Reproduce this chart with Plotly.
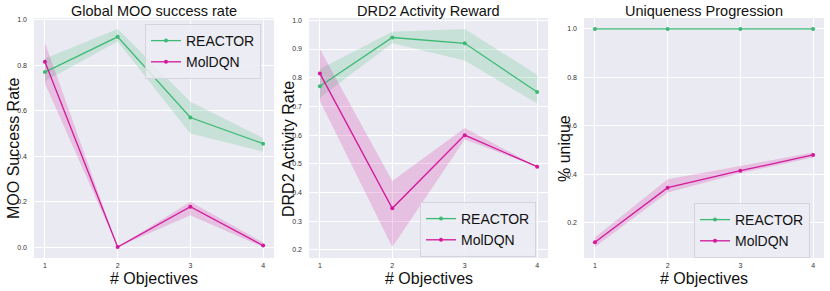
import plotly.graph_objects as go

objectives = [1, 2, 3, 4]

# Panel 1: Global MOO success rate
moo_reactor = [0.77, 0.925, 0.57, 0.455]
moo_reactor_lo = [0.73, 0.905, 0.50, 0.42]
moo_reactor_hi = [0.83, 0.96, 0.64, 0.48]
moo_moldqn = [0.815, 0.0, 0.178, 0.007]
moo_moldqn_lo = [0.72, 0.0, 0.14, 0.0]
moo_moldqn_hi = [0.90, 0.0, 0.20, 0.02]

# Panel 2: DRD2 activity
drd_reactor = [0.77, 0.94, 0.92, 0.75]
drd_reactor_lo = [0.73, 0.92, 0.86, 0.71]
drd_reactor_hi = [0.83, 0.96, 0.97, 0.81]
drd_moldqn = [0.815, 0.345, 0.60, 0.49]
drd_moldqn_lo = [0.72, 0.21, 0.585, 0.49]
drd_moldqn_hi = [0.90, 0.44, 0.625, 0.49]

# Panel 3: uniqueness
uniq_reactor = [1.0, 1.0, 1.0, 1.0]
uniq_reactor_lo = [1.0, 1.0, 1.0, 1.0]
uniq_reactor_hi = [1.0, 1.0, 1.0, 1.0]
uniq_moldqn = [0.12, 0.345, 0.415, 0.48]
uniq_moldqn_lo = [0.10, 0.325, 0.405, 0.47]
uniq_moldqn_hi = [0.14, 0.38, 0.435, 0.49]

titles = ["Global MOO success rate", "DRD2 Activity Reward", "Uniqueness Progression"]
ylabels = ["MOO Success Rate", "DRD2 Activity Rate", "% unique"]
xlabel = "# Objectives"
yticks = [[0.0, 0.2, 0.4, 0.6, 0.8, 1.0],
          [0.2, 0.3, 0.4, 0.5, 0.6, 0.7, 0.8, 0.9, 1.0],
          [0.2, 0.4, 0.6, 0.8, 1.0]]
yranges = [[-0.048, 1.008], [0.172, 1.008], [0.055, 1.045]]

GREEN = "#3cba74"
GREEN_BAND = "rgba(60,186,116,0.2)"
PINK = "#d3189b"
PINK_BAND = "rgba(211,24,155,0.2)"

panels = [
    (moo_reactor, moo_reactor_lo, moo_reactor_hi, moo_moldqn, moo_moldqn_lo, moo_moldqn_hi),
    (drd_reactor, drd_reactor_lo, drd_reactor_hi, drd_moldqn, drd_moldqn_lo, drd_moldqn_hi),
    (uniq_reactor, uniq_reactor_lo, uniq_reactor_hi, uniq_moldqn, uniq_moldqn_lo, uniq_moldqn_hi),
]

W, H = 830, 291
xdoms = [(34, 274), (309, 548), (584, 824)]
ylab_x = [13, 288, 564]
ytop, ybot = 18, 258
ydom = [1 - ybot / H, 1 - ytop / H]
legend_pos = [(145, 24), (420, 202), (694, 203)]
legend_names = ["legend", "legend2", "legend3"]

fig = go.Figure()
layout = {}
annotations = []
FONT = "Liberation Sans, Arial, sans-serif"
TXT = "#111111"

for i, (r, rlo, rhi, m, mlo, mhi) in enumerate(panels):
    xa = "x" if i == 0 else f"x{i+1}"
    ya = "y" if i == 0 else f"y{i+1}"
    lg = legend_names[i]
    for lo, hi, band in [(rlo, rhi, GREEN_BAND), (mlo, mhi, PINK_BAND)]:
        fig.add_trace(go.Scatter(
            x=objectives + objectives[::-1], y=hi + lo[::-1],
            fill="toself", fillcolor=band, line=dict(width=0, color=band),
            mode="lines", hoverinfo="skip", showlegend=False, xaxis=xa, yaxis=ya))
    for vals, col, name in [(r, GREEN, "REACTOR"), (m, PINK, "MolDQN")]:
        fig.add_trace(go.Scatter(
            x=objectives, y=vals, mode="lines+markers", name=name,
            line=dict(color=col, width=1.3), marker=dict(color=col, size=4),
            xaxis=xa, yaxis=ya, legend=lg))

    x0, x1 = xdoms[i]
    axn = "" if i == 0 else str(i + 1)
    layout["xaxis" + axn] = dict(
        domain=[x0 / W, x1 / W], range=[0.85, 4.15], anchor=ya, automargin=False,
        tickvals=objectives, ticktext=[str(v) for v in objectives],
        tickfont=dict(size=7, color="#333333", family=FONT), ticklabelstandoff=2,
        showgrid=True, gridcolor="white", gridwidth=1, zeroline=False,
        showline=False, ticks="")
    layout["yaxis" + axn] = dict(
        domain=ydom, range=yranges[i], anchor=xa, automargin=False,
        tickvals=yticks[i], ticktext=[f"{v:.1f}" for v in yticks[i]],
        tickfont=dict(size=7, color="#333333", family=FONT), ticklabelstandoff=6,
        showgrid=True, gridcolor="white", gridwidth=1, zeroline=False,
        showline=False, ticks="")
    annotations.append(dict(
        text=titles[i], x=(x0 + x1) / 2 / W, y=1 - 11 / H, xref="paper", yref="paper",
        xanchor="center", yanchor="middle", showarrow=False,
        font=dict(size=14.5, color=TXT, family=FONT)))
    annotations.append(dict(
        text=xlabel, x=(x0 + x1) / 2 / W, y=1 - 278 / H, xref="paper", yref="paper",
        xanchor="center", yanchor="middle", showarrow=False,
        font=dict(size=16, color=TXT, family=FONT)))
    annotations.append(dict(
        text=ylabels[i], x=ylab_x[i] / W, y=1 - 149 / H, xref="paper", yref="paper",
        xanchor="center", yanchor="middle", showarrow=False, textangle=-90,
        font=dict(size=16, color=TXT, family=FONT)))
    lx, ly = legend_pos[i]
    layout[lg] = dict(
        x=lx / W, y=1 - ly / H, xanchor="left", yanchor="top",
        bgcolor="rgba(236,236,244,0.85)", bordercolor="#d4d4dc", borderwidth=1,
        font=dict(size=14, color=TXT, family=FONT),
        itemwidth=30, tracegroupgap=0)

fig.update_layout(
    width=W, height=H, margin=dict(l=0, r=0, t=0, b=0, autoexpand=False),
    paper_bgcolor="white", plot_bgcolor="#EAEAF2",
    annotations=annotations, **layout)

fig.write_html("out.html", config={"displayModeBar": False},
               post_script="document.body.style.margin='0';document.body.style.overflow='hidden';")
